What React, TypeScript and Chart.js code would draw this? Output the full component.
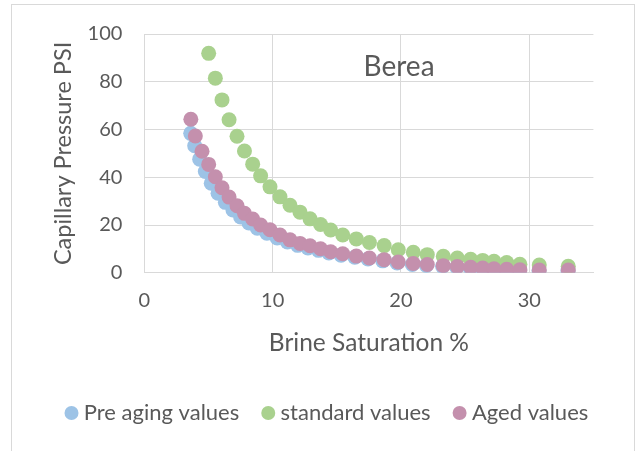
import React, { useEffect, useRef } from "react";
import { Chart, registerables } from "chart.js";

Chart.register(...registerables);

// ---- Data ----
const preAgingX = [3.61, 3.92, 4.31, 4.75, 5.21, 5.74, 6.31, 6.9, 7.5, 8.15, 8.8, 9.55, 10.35, 11.15, 11.95, 12.75, 13.57, 14.38, 15.33, 16.4, 17.43, 18.58, 19.7, 20.88, 21.98, 23.24, 24.34, 25.39, 26.34, 27.22, 28.22, 29.25, 30.76, 33.02];
const preAgingY = [58.4, 53.2, 47.6, 42.4, 37.5, 33.3, 29.5, 26.3, 23.4, 20.9, 18.7, 16.6, 14.6, 12.9, 11.5, 10.4, 9.4, 8.3, 7.4, 6.5, 5.8, 5.0, 4.1, 3.5, 3.1, 2.7, 2.3, 2.0, 1.8, 1.5, 1.3, 1.1, 1.0, 0.9];

const standardX = [5.01, 5.53, 6.05, 6.6, 7.22, 7.8, 8.44, 9.06, 9.79, 10.57, 11.35, 12.13, 12.91, 13.73, 14.52, 15.46, 16.52, 17.54, 18.69, 19.79, 20.96, 22.05, 23.3, 24.39, 25.43, 26.37, 27.25, 28.24, 29.27, 30.78, 33.04];
const standardY = [91.9, 81.5, 72.4, 64.1, 57.2, 51.0, 45.5, 40.6, 36.0, 31.8, 28.3, 25.4, 22.6, 20.2, 17.9, 15.8, 14.2, 12.7, 11.4, 9.65, 8.6, 7.6, 6.9, 6.2, 5.7, 5.2, 4.8, 4.3, 3.6, 3.26, 2.7];

const agedX = [3.62, 3.97, 4.49, 5.01, 5.53, 6.05, 6.6, 7.22, 7.8, 8.44, 9.06, 9.79, 10.57, 11.35, 12.13, 12.91, 13.73, 14.52, 15.46, 16.52, 17.54, 18.69, 19.79, 20.96, 22.05, 23.3, 24.39, 25.43, 26.37, 27.25, 28.24, 29.27, 30.78, 33.04];
const agedY = [64.3, 57.3, 50.9, 45.4, 40.2, 35.6, 31.7, 28.1, 24.9, 22.5, 20.0, 18.0, 15.8, 13.8, 12.3, 11.3, 10.1, 8.8, 8.0, 7.0, 6.2, 5.5, 4.5, 3.9, 3.5, 3.0, 2.6, 2.3, 2.0, 1.7, 1.5, 1.3, 1.2, 1.2];

const seriesNames = ["Pre aging values", "standard values", "Aged values"];
const chartTitle = "Berea";
const xAxisTitle = "Brine Saturation %";
const yAxisTitle = "Capillary Pressure PSI";
const xTickMax = 30;

const FONT = "Lato";
const TEXT = "#595959";
const GRID = "#d9d9d9";

const toPts = (xs: number[], ys: number[]) => xs.map((x, i) => ({ x, y: ys[i] }));

const titlePlugin = {
  id: "inlineTitle",
  afterDraw(chart: any) {
    const { ctx, scales } = chart;
    const x = scales.x.getPixelForValue(19.85);
    const y = scales.y.getPixelForValue(86);
    ctx.save();
    ctx.font = `28px ${FONT}`;
    ctx.fillStyle = TEXT;
    ctx.textAlign = "center";
    ctx.textBaseline = "middle";
    ctx.fillText(chartTitle, x, y);
    ctx.restore();
  },
};

export default function App() {
  const ref = useRef<HTMLCanvasElement | null>(null);

  useEffect(() => {
    if (!ref.current) return;
    const chart = new Chart(ref.current, {
      type: "scatter",
      data: {
        datasets: [
          {
            label: seriesNames[0],
            data: toPts(preAgingX, preAgingY),
            backgroundColor: "#9dc3e6",
            borderWidth: 0,
            pointRadius: 7.5,
            order: 3,
          },
          {
            label: seriesNames[1],
            data: toPts(standardX, standardY),
            backgroundColor: "#a9d18e",
            borderWidth: 0,
            pointRadius: 7.5,
            order: 2,
          },
          {
            label: seriesNames[2],
            data: toPts(agedX, agedY),
            backgroundColor: "#c490ad",
            borderWidth: 0,
            pointRadius: 7.5,
            order: 1,
          },
        ],
      },
      options: {
        responsive: false,
        animation: false,
        events: [],
        layout: { padding: { left: 42.5, right: 10, top: 33.3, bottom: 17 } },
        scales: {
          x: {
            type: "linear",
            min: 0,
            max: 35,
            ticks: { stepSize: 10, color: TEXT, font: { family: FONT, size: 20 }, padding: 16, maxRotation: 0 },
            afterBuildTicks: (scale: any) => {
              scale.ticks = scale.ticks.filter((t: any) => t.value <= xTickMax);
            },
            afterFit: (scale: any) => {
              scale.height = 101.5;
            },
            grid: { color: GRID, drawTicks: false, lineWidth: 1 },
            border: { color: GRID, width: 1 },
            title: {
              display: true,
              text: xAxisTitle,
              color: TEXT,
              font: { family: FONT, size: 24.5 },
              padding: { top: 0, bottom: 16.6 },
            },
          },
          y: {
            type: "linear",
            min: 0,
            max: 100,
            ticks: { stepSize: 20, color: TEXT, font: { family: FONT, size: 20 }, padding: 22 },
            afterFit: (scale: any) => {
              scale.width = 101.9;
            },
            grid: { color: GRID, drawTicks: false, lineWidth: 1 },
            border: { color: GRID, width: 1 },
            title: {
              display: true,
              text: yAxisTitle,
              color: TEXT,
              font: { family: FONT, size: 23.5 },
              padding: { top: 6.4, bottom: 0 },
            },
          },
          // empty spacer on the right so the plot ends where the reference's does
          yRight: {
            type: "linear",
            position: "right",
            display: true,
            min: 0,
            max: 100,
            ticks: { display: false },
            grid: { display: false, drawTicks: false },
            border: { display: false },
            afterFit: (scale: any) => {
              scale.width = 35.6;
            },
          },
        },
        plugins: {
          title: { display: false },
          tooltip: { enabled: false },
          legend: {
            display: true,
            position: "bottom",
            align: "start",
            labels: {
              usePointStyle: true,
              pointStyle: "circle",
              boxWidth: 2.6,
              boxHeight: 9.9,
              padding: 27.7,
              color: TEXT,
              font: { family: FONT, size: 22 },
              sort: (a: any, b: any) => a.datasetIndex - b.datasetIndex,
            },
          },
        },
      },
      plugins: [titlePlugin],
    });
    return () => chart.destroy();
  }, []);

  return (
    <div
      style={{
        position: "absolute",
        left: 0,
        top: 0,
        width: 639,
        height: 451,
        overflow: "hidden",
        background: "#ffffff",
      }}
    >
      <div
        style={{
          position: "absolute",
          left: 11,
          top: 4,
          width: 624,
          height: 470,
          boxSizing: "border-box",
          border: `1px solid ${GRID}`,
        }}
      />
      <canvas ref={ref} width={639} height={451} style={{ position: "absolute", left: 0, top: 0 }} />
    </div>
  );
}
